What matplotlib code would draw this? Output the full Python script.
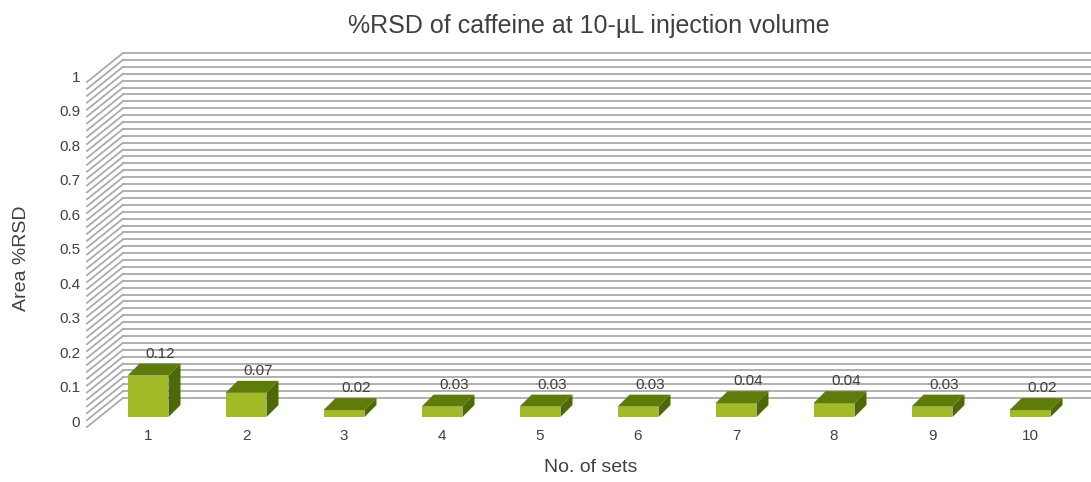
import numpy as np
import matplotlib
matplotlib.use('Agg')
import matplotlib.pyplot as plt
from matplotlib.patches import Rectangle, Polygon

# data
sets = list(range(1, 11))
rsd = [0.12, 0.07, 0.02, 0.03, 0.03, 0.03, 0.04, 0.04, 0.03, 0.02]
yticks = [0, 0.1, 0.2, 0.3, 0.4, 0.5, 0.6, 0.7, 0.8, 0.9, 1.0]
ytick_labels = ['0', '0.1', '0.2', '0.3', '0.4', '0.5', '0.6', '0.7', '0.8', '0.9', '1']
grid_levels = np.linspace(0, 1, 51)

plt.rcParams['font.family'] = ['Liberation Sans', 'DejaVu Sans']

W, H = 1091, 482
fig = plt.figure(figsize=(W / 100, H / 100), dpi=100)
# axes = back wall of the 3d chart
ax = fig.add_axes([123 / W, (H - 398) / H, 968 / W, 345 / H])
ax.set_xlim(0.5, 0.5 + 968 / 98)
ax.set_ylim(0, 1)
ax.axis('off')

px_x = 1 / 98.0
px_y = 1 / 345.0

def shift(dx, dy):
  # depth offset in image pixels (dy downwards) -> data units
  return dx * px_x, -dy * px_y

wall = shift(-36, 29)
bar_front = shift(-24, 19)
bar_back = shift(-12, 7)

grid_col = '#aaaaaa'
x0, x1 = ax.get_xlim()
for g in grid_levels:
  ax.plot([x0, x1], [g, g], color=grid_col, lw=1.3, clip_on=False, zorder=1)
  ax.plot([x0 + wall[0], x0], [g + wall[1], g], color=grid_col, lw=1.3,
          clip_on=False, zorder=1)

tick_fs = 11
txt_col = '#404040'
# y tick labels on the front edge of the side wall
for t, lab in zip(yticks, ytick_labels):
  ax.annotate(lab, (x0 + wall[0], t + wall[1]), xytext=(-5, 3),
              textcoords='offset points', ha='right', va='center',
              fontsize=tick_fs, color=txt_col, annotation_clip=False)

front_col = '#a2ba28'
top_col = '#5f7c0b'
side_col = '#4d6806'
half = 0.209
for i, v in zip(sets, rsd):
  fx, fy = bar_front
  bx, by = bar_back
  ax.add_patch(Rectangle((i - half + fx, fy), 2 * half, v, facecolor=front_col,
                         edgecolor='none', zorder=3, clip_on=False))
  top = [(i - half + fx, v + fy), (i + half + fx, v + fy),
         (i + half + bx, v + by), (i - half + bx, v + by)]
  ax.add_patch(Polygon(top, closed=True, facecolor=top_col, edgecolor='none',
                       zorder=3, clip_on=False))
  side = [(i + half + fx, fy), (i + half + fx, v + fy),
          (i + half + bx, v + by), (i + half + bx, by)]
  ax.add_patch(Polygon(side, closed=True, facecolor=side_col, edgecolor='none',
                       zorder=3, clip_on=False))
  ax.annotate('{:.2f}'.format(v), (i + bx, v + by), xytext=(0, 2),
              textcoords='offset points', ha='center', va='bottom',
              fontsize=tick_fs, color=txt_col, annotation_clip=False)
  ax.annotate(str(i), (i + fx, fy), xytext=(0, -9),
              textcoords='offset points', ha='center', va='top',
              fontsize=tick_fs, color=txt_col, annotation_clip=False)

fig.text(589 / W, 1 - 26 / H, '%RSD of caffeine at 10-\u00b5L injection volume',
         ha='center', va='center', fontsize=18, color=txt_col)
fig.text(22 / W, 1 - 258 / H, 'Area %RSD', rotation=90, ha='center',
         va='center', fontsize=14, color=txt_col)
fig.text(591 / W, 1 - 468 / H, 'No. of sets', ha='center', va='center',
         fontsize=14, color=txt_col)

fig.savefig('out.png', dpi=100)
